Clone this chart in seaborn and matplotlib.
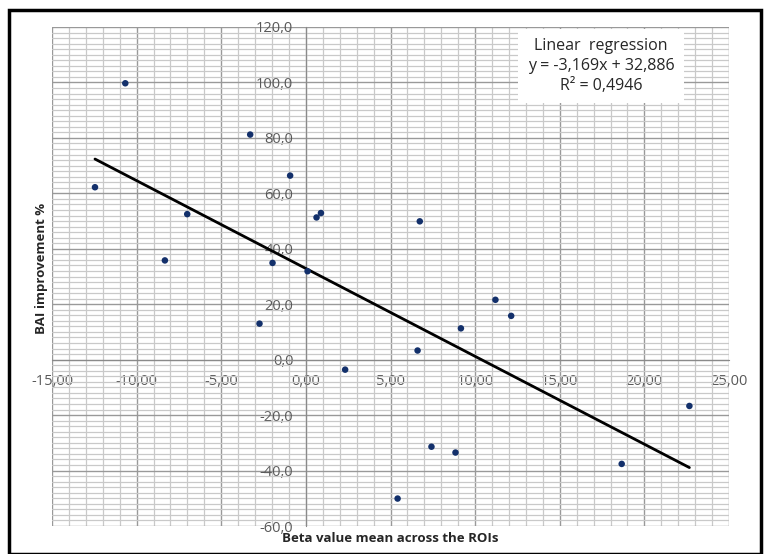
import matplotlib
matplotlib.use("Agg")
import matplotlib.pyplot as plt
import seaborn as sns
import pandas as pd
import numpy as np
from matplotlib.ticker import MultipleLocator, FuncFormatter
from matplotlib.patches import Rectangle

# values
beta_mean = [-12.46, -10.67, -3.29, -0.93, -7.01, 0.63, 0.89, -8.33, -1.97, 0.10,
             6.73, -2.74, 2.32, 5.42, 11.20, 12.13, 9.16, 6.60, 22.66, 7.42,
             8.84, 18.66]
bai_improvement = [62.2, 99.7, 81.2, 66.4, 52.5, 51.3, 52.9, 35.8, 34.9, 31.9,
                   49.9, 13.0, -3.6, -50.1, 21.6, 15.8, 11.3, 3.3, -16.7, -31.4,
                   -33.5, -37.6]
slope = -3.169
intercept = 32.886
r_squared = 0.4946

df = pd.DataFrame({"beta": beta_mean, "bai": bai_improvement})

sns.set_style("white")
plt.rcParams["font.family"] = ["Open Sans", "DejaVu Sans"]

fig = plt.figure(figsize=(7.7, 5.54), dpi=100)
W, H = 770, 554
ax = fig.add_axes([52 / W, 1 - 526 / H, (729 - 52) / W, (526 - 27) / H])

# grid
ax.set_xlim(-15, 25)
ax.set_ylim(-60, 120)
ax.xaxis.set_major_locator(MultipleLocator(5))
ax.xaxis.set_minor_locator(MultipleLocator(1))
ax.yaxis.set_major_locator(MultipleLocator(20))
ax.yaxis.set_minor_locator(MultipleLocator(2))
ax.grid(which="minor", color="#c9c9c9", linewidth=0.9, zorder=0)
ax.grid(which="major", color="#999999", linewidth=1.0, zorder=0)
ax.set_axisbelow(True)

# trend line from the fitted equation
x_fit = np.array([min(beta_mean), max(beta_mean)])
sns.lineplot(x=x_fit, y=slope * x_fit + intercept, ax=ax, color="black",
             linewidth=2, zorder=3)
sns.scatterplot(data=df, x="beta", y="bai", ax=ax, color="#13306b", s=22,
                edgecolor="none", zorder=4)

# axes crossing at zero
for s in ["top", "right"]:
    ax.spines[s].set_visible(False)
ax.spines["left"].set_position(("data", 0))
ax.spines["bottom"].set_position(("data", 0))
ax.spines["left"].set_color("#8a8a8a")
ax.spines["bottom"].set_color("#8a8a8a")
ax.tick_params(which="both", length=0)
ax.tick_params(axis="x", pad=10, labelsize=10.5, labelcolor="#595959")
ax.tick_params(axis="y", pad=9, labelsize=10.5, labelcolor="#595959")
ax.xaxis.set_major_formatter(FuncFormatter(lambda v, p: f"{v:.2f}".replace(".", ",")))
ax.yaxis.set_major_formatter(FuncFormatter(lambda v, p: f"{v:.1f}".replace(".", ",")))
ax.set_xlabel("")
ax.set_ylabel("")

fig.text(390 / W, 1 - 538 / H, "Beta value mean across the ROIs", ha="center",
         va="center", fontsize=9.5, fontweight="bold", color="#262626")
fig.text(42 / W, 1 - 268 / H, "BAI improvement %", ha="center", va="center",
         rotation=90, fontsize=9.5, fontweight="bold", color="#262626")

ax.text(601 / W, 1 - 66 / H,
        "Linear  regression\n"
        f"y = {slope:.3f}x + {intercept:.3f}\n".replace(".", ",")
        + f"R² = {r_squared:.4f}".replace(".", ","),
        transform=fig.transFigure, ha="center", va="center", fontsize=11.5,
        color="#262626", linespacing=1.3, zorder=5,
        bbox=dict(facecolor="white", edgecolor="none", pad=7))

# outer chart border
fig.patches.append(Rectangle((9 / W, 0), (761 - 9) / W, 1 - 10 / H,
                             transform=fig.transFigure, fill=False,
                             edgecolor="black", linewidth=2.5))

fig.savefig("out.png", dpi=100)
